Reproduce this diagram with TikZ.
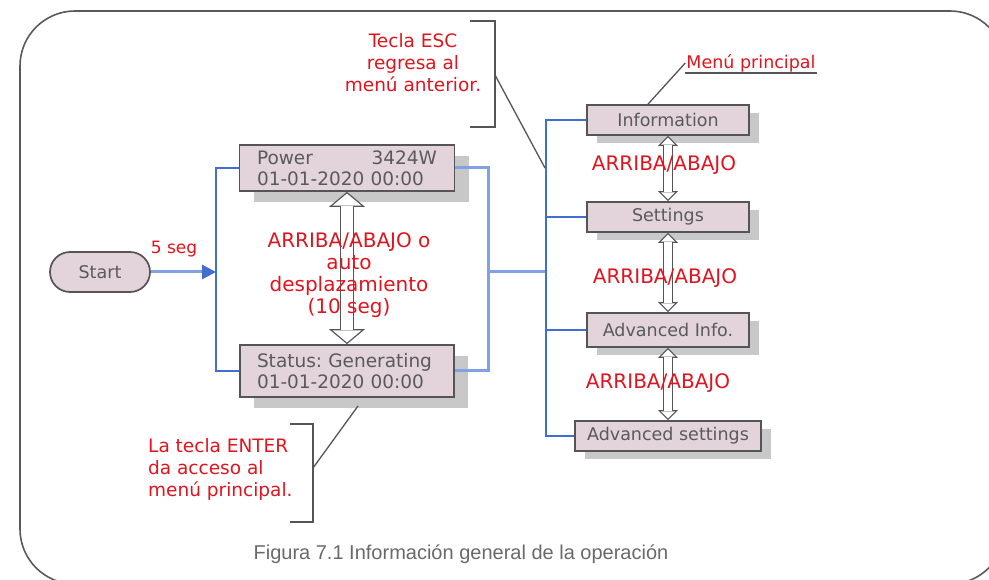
\documentclass[tikz,border=0pt]{standalone}
\usepackage{fontspec}
\setmainfont{DejaVu Sans}
\newfontfamily\capfont{Liberation Sans}
\usetikzlibrary{arrows.meta,shadows,calc}

\definecolor{boxfill}{RGB}{226,212,218}
\definecolor{boxline}{RGB}{85,85,85}
\definecolor{labelgray}{RGB}{90,90,90}
\definecolor{shadowgray}{RGB}{200,200,200}
\definecolor{notered}{RGB}{224,20,30}
\definecolor{bluedark}{RGB}{66,110,210}
\definecolor{bluelight}{RGB}{128,162,228}
\definecolor{framegray}{RGB}{90,90,90}
\definecolor{capgray}{RGB}{105,105,105}

\begin{document}
\begin{tikzpicture}[x=1pt,y=-1pt,
  boxbase/.style={draw=boxline, line width=1.7pt, fill=boxfill, text=labelgray, inner sep=0pt,
    font=\fontsize{17.5}{21}\selectfont\frenchspacing},
  menubox/.style={boxbase, minimum width=162pt, minimum height=30pt,
    general shadow={fill=shadowgray, shadow xshift=10pt, shadow yshift=-8pt}},
  screenbox/.style={boxbase, text width=180pt, align=left, font=\fontsize{18.5}{21}\selectfont\frenchspacing,
    general shadow={fill=shadowgray, shadow xshift=14pt, shadow yshift=-11pt}},
  startbox/.style={boxbase, rounded corners=20pt, minimum width=100pt, minimum height=40pt},
  redlabel/.style={text=notered, inner sep=0pt, align=center, font=\fontsize{20}{22}\selectfont},
  notelabel/.style={redlabel, font=\fontsize{18.5}{22}\selectfont},
  blueline/.style={draw=bluedark, line width=1.5pt},
  bluewide/.style={draw=bluelight, line width=3pt},
  startarrow/.style={bluewide, -{Triangle[length=14pt, width=14pt, color=bluedark]}},
  bigupdown/.style={draw=white, line width=11.4pt, shorten <=1.7pt, shorten >=1.7pt,
    {Triangle[length=12pt, width=28.8pt, line width=0pt]}-{Triangle[length=12pt, width=28.8pt, line width=0pt]},
    preaction={draw=boxline, line width=14pt, shorten <=0pt, shorten >=0pt,
      {Triangle[length=15pt, width=36pt, line width=0pt]}-{Triangle[length=15pt, width=36pt, line width=0pt]}}},
  updown/.style={draw=white, line width=7.4pt, shorten <=1.8pt, shorten >=1.8pt,
    {Triangle[length=6.9pt, width=13.7pt, line width=0pt]}-{Triangle[length=6.9pt, width=13.7pt, line width=0pt]},
    preaction={draw=boxline, line width=10pt, shorten <=0pt, shorten >=0pt,
      {Triangle[length=10pt, width=20pt, line width=0pt]}-{Triangle[length=10pt, width=20pt, line width=0pt]}}},
  callout/.style={draw=boxline, line width=1.3pt}]

\useasboundingbox (0,0) rectangle (989,580);

% Outer frame
\draw[framegray, line width=1.6pt, rounded corners=55pt] (20,11) rectangle (1005,584);

% Start and the two screens
\node[startbox] (start) at (100,272) {Start};
\node[screenbox, minimum width=215pt, minimum height=46pt] (power) at (347,168) {Power\hfill 3424W\\01-01-2020 00:00};
\node[screenbox, minimum width=214pt, minimum height=52pt] (status) at (347,371) {Status: Generating\\01-01-2020 00:00};

% Main menu
\node[menubox] (info) at (668,120) {Information};
\node[menubox] (settings) at (668,217) {Settings};
\node[menubox, minimum height=34pt] (advinfo) at (668,330) {Advanced Info.};
\node[menubox, minimum width=186pt] (advset) at (668,436) {Advanced settings};

% Joints of the blue lines
\coordinate (join) at (216,272);
\coordinate (rjoin) at (488,272);
\coordinate (bus) at (546,272);

% Blue lines
\draw[blueline] (power.west) -| (join) |- (status.west);
\draw[bluewide] (power.east) -| (rjoin) |- (status.east);
\draw[bluewide] (rjoin) -- (bus);
\draw[blueline] (info.west) -- (info.west -| bus) -- (advset.west -| bus) -- (advset.west);
\draw[blueline] (settings.west) -- (settings.west -| bus);
\draw[blueline] (advinfo.west) -- (advinfo.west -| bus);

% Start arrow
\draw[startarrow] (start.east) -- (join);
\node[redlabel, font=\fontsize{17}{18}\selectfont] (delay) at (174,249) {5 seg};

% Up/down arrows
\draw[bigupdown] (power.south) -- (status.north);
\draw[updown] (info.south) -- (settings.north);
\draw[updown] (settings.south) -- (advinfo.north);
\draw[updown] (advinfo.south) -- (advset.north);

% Key labels
\node[redlabel] (scroll) at (349,275) {ARRIBA/ABAJO o\\auto\\desplazamiento\\(10 seg)};
\node[redlabel] (keys1) at (664,165) {ARRIBA/ABAJO};
\node[redlabel] (keys2) at (665,278) {ARRIBA/ABAJO};
\node[redlabel] (keys3) at (658,383) {ARRIBA/ABAJO};

% ESC note
\node[notelabel] (escnote) at (413,63) {Tecla ESC\\regresa al\\menú anterior.};
\coordinate (esctop) at (470,21);
\coordinate (escbot) at (470,127);
\coordinate (escmid) at (495,75);
\coordinate (esctip) at (545,168);
\draw[callout] (esctop) -| (escmid) |- (escbot);
\draw[callout] (escmid) -- (esctip);

% ENTER note
\node[notelabel, align=left, anchor=west] (enternote) at (148,469) {La tecla ENTER\\da acceso al\\menú principal.};
\coordinate (entertop) at (290,424);
\coordinate (enterbot) at (290,522);
\coordinate (entermid) at (313,468);
\coordinate (entertip) at (358,406);
\draw[callout] (entertop) -| (entermid) |- (enterbot);
\draw[callout] (entermid) -- (entertip);

% Main menu title
\node[notelabel, font=\fontsize{17.5}{20}\selectfont, inner sep=1pt] (menulbl) at (751,63) {Menú principal};
\draw[callout] ($(info.north)+(-20,0)$) -- (menulbl.west);
\draw[callout] (menulbl.south west) -- (menulbl.south east);

% Caption
\node[text=capgray, anchor=base, font=\capfont\fontsize{20}{22}\selectfont] (caption) at (461,559) {Figura 7.1 Información general de la operación};

\end{tikzpicture}
\end{document}
